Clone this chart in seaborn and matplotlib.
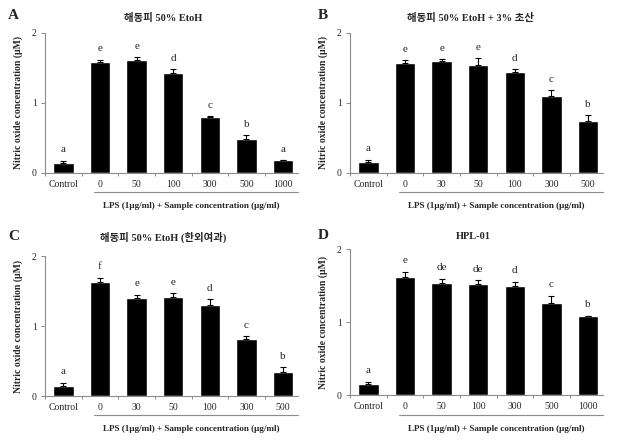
import matplotlib
matplotlib.use("Agg")
from matplotlib import pyplot as plt
import matplotlib.transforms as mtransforms
import numpy as np
import pandas as pd
import seaborn as sns

sns.set_style("white")
plt.rcParams['font.family'] = ['Liberation Serif', 'Noto Sans CJK KR', 'DejaVu Sans']

# panel data
panel_letters = ["A", "B", "C", "D"]
panel_titles = ["해동피 50% EtoH", "해동피 50% EtoH + 3% 초산",
                "해동피 50% EtoH (한외여과)", "HPL-01"]

labels_a = ["Control", "0", "50", "100", "300", "500", "1000"]
means_a = [0.14, 1.58, 1.61, 1.43, 0.80, 0.49, 0.18]
errs_a = [0.035, 0.04, 0.04, 0.05, 0.01, 0.05, 0.0]
sig_a = ["a", "e", "e", "d", "c", "b", "a"]

labels_b = ["Control", "0", "30", "50", "100", "300", "500"]
means_b = [0.15, 1.57, 1.60, 1.54, 1.44, 1.10, 0.74]
errs_b = [0.04, 0.04, 0.03, 0.10, 0.04, 0.08, 0.09]
sig_b = ["a", "e", "e", "e", "d", "c", "b"]

labels_c = ["Control", "0", "30", "50", "100", "300", "500"]
means_c = [0.15, 1.63, 1.40, 1.42, 1.30, 0.81, 0.35]
errs_c = [0.04, 0.06, 0.05, 0.05, 0.08, 0.05, 0.06]
sig_c = ["a", "f", "e", "e", "d", "c", "b"]

labels_d = ["Control", "0", "50", "100", "300", "500", "1000"]
means_d = [0.15, 1.62, 1.53, 1.52, 1.50, 1.26, 1.09]
errs_d = [0.03, 0.07, 0.06, 0.05, 0.05, 0.10, 0.0]
sig_d = ["a", "e", "de", "de", "d", "c", "b"]

panels = [
    (labels_a, means_a, errs_a, sig_a),
    (labels_b, means_b, errs_b, sig_b),
    (labels_c, means_c, errs_c, sig_c),
    (labels_d, means_d, errs_d, sig_d),
]

# axes rectangles in figure fractions
rects = [
    [0.0725, 0.607, 0.407, 0.318],
    [0.5636, 0.607, 0.407, 0.318],
    [0.0725, 0.100, 0.407, 0.318],
    [0.5636, 0.102, 0.407, 0.332],
]
letter_pos = [(0.013, 0.965), (0.512, 0.965), (0.013, 0.463), (0.512, 0.465)]
title_pos = [(0.262, 0.958), (0.757, 0.958), (0.262, 0.461), (0.762, 0.463)]

fig = plt.figure(figsize=(6.21, 4.4), dpi=100)
grey = "#8c8c8c"

for i, (labels, means, errs, sig) in enumerate(panels):
    ax = fig.add_axes(rects[i])
    df = pd.DataFrame({"dose": labels, "no": means})
    sns.barplot(data=df, x="dose", y="no", order=labels, color="black",
                width=0.56, saturation=1, ax=ax)
    xs = list(range(len(labels)))
    ax.errorbar(xs, means, yerr=[[0] * len(errs), errs], fmt="none",
                ecolor="black", elinewidth=0.8, capsize=2.2, capthick=0.8)
    for x, m, e, s in zip(xs, means, errs, sig):
        ax.text(x, m + e + 0.09, s, ha="center", va="bottom", fontsize=8)

    ax.set_xlim(-0.5, len(labels) - 0.6)
    ax.set_ylim(0, 2)
    ax.set_yticks([0, 1, 2])
    ax.set_yticklabels(["0", "1", "2"], fontsize=7)
    ax.tick_params(axis="y", length=3, width=0.7, color=grey, pad=3, direction="out", left=True)
    ax.tick_params(axis="x", which="major", length=0, pad=5, labelsize=7)
    # small ticks between the categories
    ax.set_xticks(np.arange(-0.5, len(labels) - 0.5, 1.0), minor=True)
    ax.tick_params(axis="x", which="minor", length=2.5, width=0.7, color=grey,
                   direction="out", bottom=True)
    for side in ["top", "right"]:
        ax.spines[side].set_visible(False)
    for side in ["left", "bottom"]:
        ax.spines[side].set_color(grey)
        ax.spines[side].set_linewidth(0.8)
    ax.set_xlabel("")
    ax.set_ylabel("Nitric oxide concentration (μM)", fontsize=7, fontweight="bold", labelpad=6)

    # underline for the LPS group and its label
    trans = mtransforms.blended_transform_factory(ax.transData, ax.transAxes)
    ax.plot([0.84, len(labels) - 0.6], [-0.135, -0.135], transform=trans,
            color=grey, lw=0.8, clip_on=False)
    ax.text((1 + len(labels) - 1) / 2, -0.235,
            "LPS (1μg/ml) + Sample concentration (μg/ml)", transform=trans,
            ha="center", va="center", fontsize=6.6, fontweight="bold")

    fig.text(letter_pos[i][0], letter_pos[i][1], panel_letters[i], fontsize=11,
             fontweight="bold", ha="left", va="center")
    fig.text(title_pos[i][0], title_pos[i][1], panel_titles[i], fontsize=7.5,
             fontweight="bold", ha="center", va="center")

fig.savefig("out.png", dpi=100)
